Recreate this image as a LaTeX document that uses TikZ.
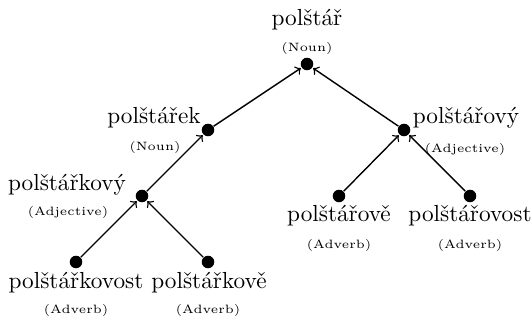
\documentclass[tikz,border=0pt]{standalone}
\usetikzlibrary{arrows}
\begin{document}
\begin{tikzpicture}[x=0.43pt,y=-0.43pt,
  dot/.style={circle,fill=black,inner sep=0pt,minimum size=5.4pt},
  word/.style={inner sep=0pt,font=\normalsize},
  wordclass/.style={inner sep=0pt,font=\fontsize{5.2pt}{6pt}\selectfont},
  link/.style={->,>=to,line width=0.6pt,shorten >=0.3pt}]
\useasboundingbox (0,0) rectangle (532,320);
% derivation nodes
\node[dot] (n0) at (307,64) {};
\node[dot] (n1) at (208,130) {};
\node[dot] (n2) at (404,130) {};
\node[dot] (n3) at (142,196) {};
\node[dot] (n4) at (76,262) {};
\node[dot] (n5) at (208,262) {};
\node[dot] (n6) at (339,196) {};
\node[dot] (n7) at (470,196) {};
% words and parts of speech
\node[word] (w0) at (307,20) {polštář};
\node[wordclass] (p0) at (307,48) {(Noun)};
\node[word] (w1) at (154,118) {polštářek};
\node[wordclass] (p1) at (155,147) {(Noun)};
\node[word] (w2) at (466,118) {polštářový};
\node[wordclass] (p2) at (465,149) {(Adjective)};
\node[word] (w3) at (67,185) {polštářkový};
\node[wordclass] (p3) at (68,212) {(Adjective)};
\node[word] (w4) at (76,283) {polštářkovost};
\node[wordclass] (p4) at (76,310) {(Adverb)};
\node[word] (w5) at (209,283) {polštářkově};
\node[wordclass] (p5) at (208,310) {(Adverb)};
\node[word] (w6) at (339,216) {polštářově};
\node[wordclass] (p6) at (339,245) {(Adverb)};
\node[word] (w7) at (470,216) {polštářovost};
\node[wordclass] (p7) at (470,245) {(Adverb)};
% derivation arrows
\draw[link] (n1) -- (n0);
\draw[link] (n2) -- (n0);
\draw[link] (n3) -- (n1);
\draw[link] (n4) -- (n3);
\draw[link] (n5) -- (n3);
\draw[link] (n6) -- (n2);
\draw[link] (n7) -- (n2);
\end{tikzpicture}
\end{document}
